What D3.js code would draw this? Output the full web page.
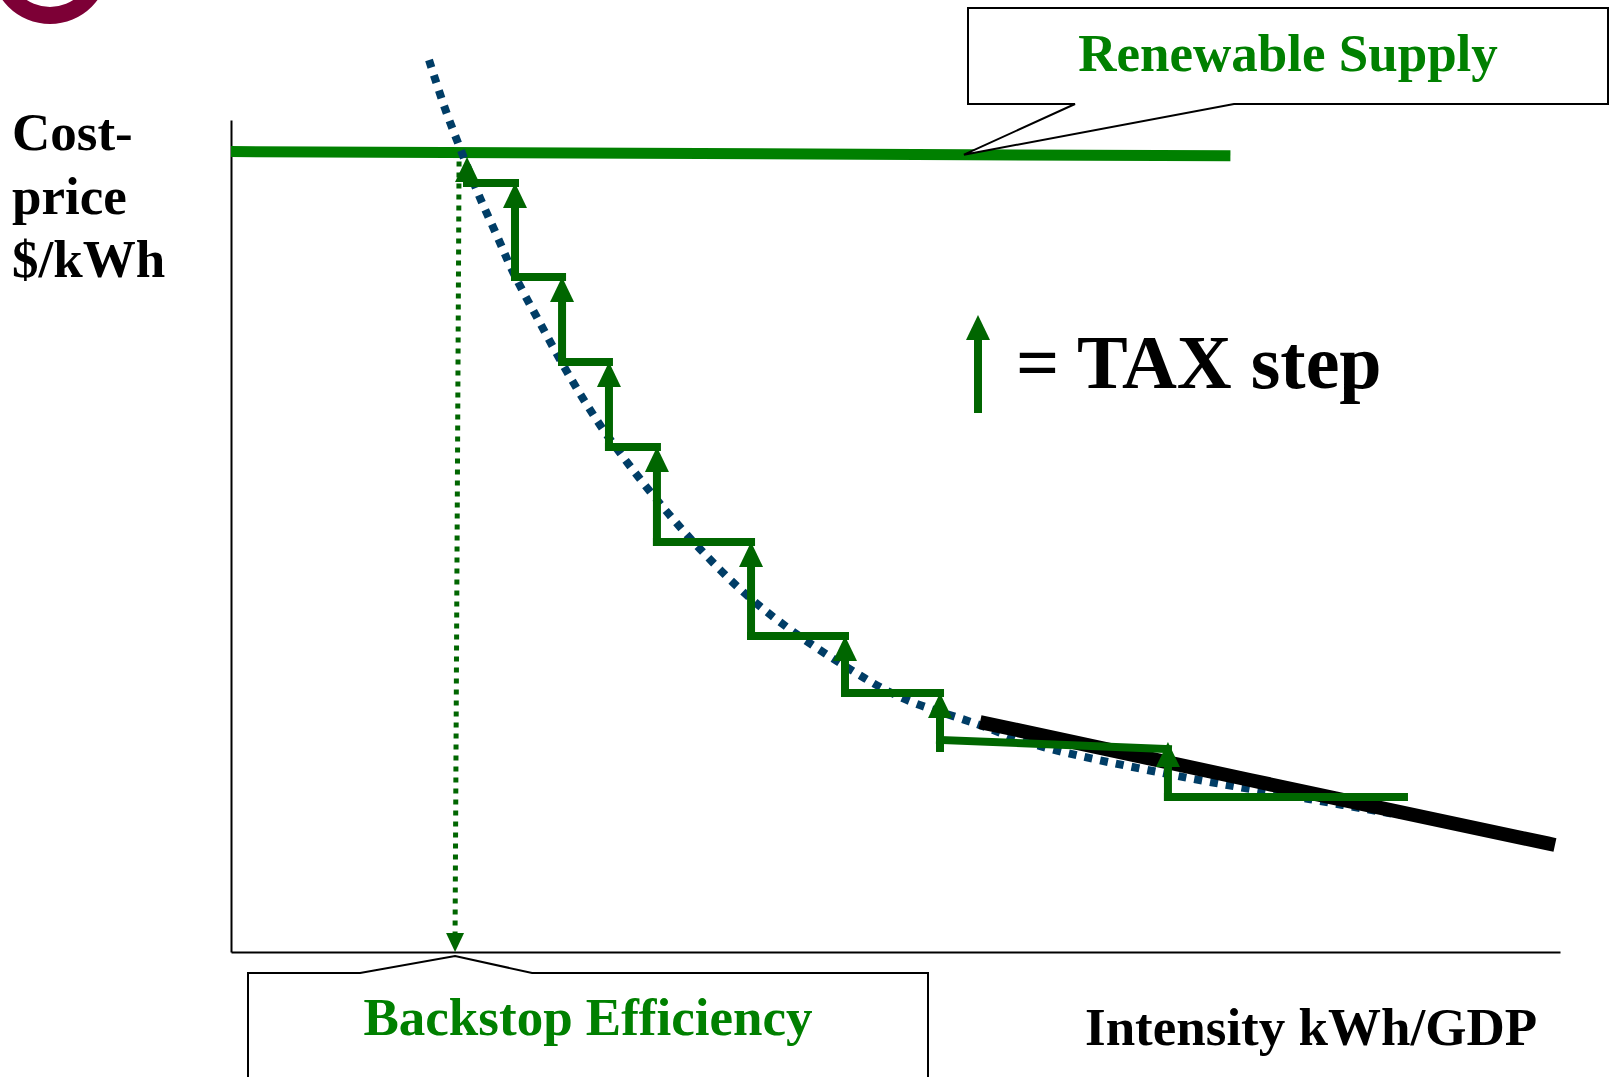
<!DOCTYPE html>
<html>
<head>
<meta charset="utf-8">
<title>Cost-price vs intensity: tax steps toward the backstop</title>
<script src="https://cdn.jsdelivr.net/npm/d3@7"></script>
<style>
  html, body { margin: 0; padding: 0; background: #ffffff; }
  svg { display: block; }
  text { font-family: "Liberation Serif", "Times New Roman", serif; font-weight: bold; }
</style>
</head>
<body>
<svg id="chart" width="1612" height="1077"></svg>
<script>
// ---- data (chart units: intensity 0–10 across, cost-price 0–10 up) ----

// Renewable supply price: a nearly flat ceiling
const renewableSupply = [
  { x: 0.00, y: 9.62 },
  { x: 7.52, y: 9.57 }
];

// Efficiency cost curve (dotted): cost rises steeply as intensity falls
const efficiencyCurve = [
  { x: 1.490, y: 10.72 }, { x: 1.610, y: 10.14 }, { x: 1.738, y: 9.603 },
  { x: 1.874, y: 9.063 }, { x: 2.002, y: 8.606 }, { x: 2.122, y: 8.173 },
  { x: 2.325, y: 7.560 }, { x: 2.551, y: 6.911 }, { x: 2.777, y: 6.334 },
  { x: 3.002, y: 5.841 }, { x: 3.281, y: 5.288 }, { x: 3.529, y: 4.844 },
  { x: 3.830, y: 4.363 }, { x: 4.131, y: 3.966 }, { x: 4.582, y: 3.474 },
  { x: 5.034, y: 3.065 }, { x: 5.613, y: 2.740 }, { x: 6.057, y: 2.488 },
  { x: 7.088, y: 2.127 }, { x: 8.111, y: 1.839 }, { x: 8.796, y: 1.647 }
];

// Current market price trend (thick black line)
const marketTrend = [
  { x: 5.636, y: 2.764 },
  { x: 7.667, y: 2.067 },
  { x: 9.962, y: 1.286 }
];

// Tax staircase: flat treads between tax increases
const taxTreads = [
  { x0: 1.776, x1: 2.137, y0: 9.243, y1: 9.243 },
  { x0: 2.137, x1: 2.491, y0: 8.113, y1: 8.113 },
  { x0: 2.491, x1: 2.844, y0: 7.091, y1: 7.091 },
  { x0: 2.844, x1: 3.205, y0: 6.070, y1: 6.070 },
  { x0: 3.205, x1: 3.913, y0: 4.928, y1: 4.928 },
  { x0: 3.913, x1: 4.620, y0: 3.798, y1: 3.798 },
  { x0: 4.620, x1: 5.335, y0: 3.113, y1: 3.113 },
  { x0: 5.335, x1: 7.050, y0: 2.548, y1: 2.440 },
  { x0: 7.050, x1: 8.826, y0: 1.863, y1: 1.863 }
];

// Tax steps: each one lifts the price from one tread to the next
const taxSteps = [
  { x: 1.776, from: 9.243, to: 9.555 },
  { x: 2.137, from: 8.113, to: 9.243 },
  { x: 2.491, from: 7.091, to: 8.113 },
  { x: 2.844, from: 6.070, to: 7.091 },
  { x: 3.205, from: 4.928, to: 6.070 },
  { x: 3.913, from: 3.798, to: 4.928 },
  { x: 4.620, from: 3.113, to: 3.798 },
  { x: 5.335, from: 2.452, to: 3.113 },
  { x: 7.050, from: 1.863, to: 2.524 }
];

// Backstop efficiency: where the curve meets renewable supply, dropped to the axis
const backstopDrop = [
  { x: 1.716, y: 9.50 },
  { x: 1.686, y: 0.00 }
];

// Text
const yAxisTitle = ["Cost-", "price", "$/kWh"];
const xAxisTitle = "Intensity kWh/GDP";
const renewableLabel = "Renewable Supply";
const backstopLabel = "Backstop Efficiency";
const taxLegendLabel = "= TAX step";
const renewableCalloutAt = 5.515;   // where the callout points on the supply line

// ---- colours ----
const GREEN = "#008000";
const STEP_GREEN = "#006600";
const NAVY = "#003d66";
const MAROON = "#7d0036";

// ---- scales ----
const svg = d3.select("#chart");
const x = d3.scaleLinear().domain([0, 10]).range([231, 1560]);
const y = d3.scaleLinear().domain([0, 10]).range([952, 120]);

// corner emblem (partial ring)
svg.append("path")
  .attr("transform", "translate(50,-35)")
  .attr("d", d3.arc()({ innerRadius: 42, outerRadius: 59, startAngle: 0, endAngle: 2 * Math.PI }))
  .attr("fill", MAROON);

// ---- axes (no ticks, just the frame lines) ----
svg.append("g").attr("transform", `translate(${x(0)},0)`)
  .call(d3.axisLeft(y).ticks(0).tickSizeOuter(0));
svg.append("g").attr("transform", `translate(0,${y(0)})`)
  .call(d3.axisBottom(x).ticks(0).tickSizeOuter(0));
svg.selectAll(".domain").attr("stroke", "#000").attr("stroke-width", 2);

const line = d3.line().x(d => x(d.x)).y(d => y(d.y));

// renewable supply ceiling
svg.append("path").datum(renewableSupply)
  .attr("d", line)
  .attr("fill", "none").attr("stroke", GREEN).attr("stroke-width", 11);

// backstop drop line with arrowhead on the axis
const bTop = backstopDrop[0], bBot = backstopDrop[1];
svg.append("path").datum([bTop, { x: bBot.x, y: y.invert(y(0) - 18) }])
  .attr("d", line)
  .attr("fill", "none").attr("stroke", STEP_GREEN)
  .attr("stroke-width", 5).attr("stroke-dasharray", "5,6");
{
  const tx = x(bBot.x), ty = y(bBot.y);
  svg.append("path")
    .attr("d", `M${tx},${ty} L${tx - 9},${ty - 19} L${tx + 9},${ty - 19} Z`)
    .attr("fill", STEP_GREEN);
}

// efficiency cost curve (dotted)
svg.append("path").datum(efficiencyCurve)
  .attr("d", d3.line().x(d => x(d.x)).y(d => y(d.y)).curve(d3.curveCatmullRom.alpha(0.5)))
  .attr("fill", "none").attr("stroke", NAVY)
  .attr("stroke-width", 8).attr("stroke-dasharray", "8,8");

// market trend (thick black)
svg.append("path").datum(marketTrend)
  .attr("d", d3.line().x(d => x(d.x)).y(d => y(d.y)).curve(d3.curveMonotoneX))
  .attr("fill", "none").attr("stroke", "#000").attr("stroke-width", 14);

// tax staircase treads
const steps = svg.append("g");
steps.selectAll("line.tread").data(taxTreads).join("line")
  .attr("class", "tread")
  .attr("x1", d => x(d.x0)).attr("x2", d => x(d.x1))
  .attr("y1", d => y(d.y0)).attr("y2", d => y(d.y1))
  .attr("stroke", STEP_GREEN).attr("stroke-width", 8).attr("stroke-linecap", "square");

// up-arrow helper
const HEAD_W = 24, HEAD_H = 25;
function upArrow(g, px, pyFrom, pyTip, color, w) {
  g.append("line")
    .attr("x1", px).attr("x2", px)
    .attr("y1", pyFrom).attr("y2", Math.min(pyFrom, pyTip + HEAD_H - 1))
    .attr("stroke", color).attr("stroke-width", w).attr("stroke-linecap", "square");
  g.append("path")
    .attr("d", `M${px},${pyTip} L${px + HEAD_W / 2},${pyTip + HEAD_H} L${px - HEAD_W / 2},${pyTip + HEAD_H} Z`)
    .attr("fill", color);
}
taxSteps.forEach(s => upArrow(steps, x(s.x), y(s.from), y(s.to), STEP_GREEN, 8));

// ---- callouts ----
const callouts = svg.append("g").attr("fill", "#fff").attr("stroke", "#000").attr("stroke-width", 2);

// Renewable Supply callout, pointing at the supply line
{
  const tipX = x(renewableCalloutAt);
  const tipY = y(d3.interpolateNumber(renewableSupply[0].y, renewableSupply[1].y)(
    renewableCalloutAt / renewableSupply[1].x));
  const L = 968, R = 1608, T = 8, B = 104;
  callouts.append("path")
    .attr("d", `M${L},${T} H${R} V${B} H1234 L${tipX},${tipY} L1075,${B} H${L} Z`)
    .attr("stroke-linejoin", "miter");
  svg.append("text")
    .attr("x", (L + R) / 2).attr("y", 71)
    .attr("text-anchor", "middle")
    .attr("font-size", 53).attr("fill", GREEN)
    .text(renewableLabel);
}

// Backstop Efficiency callout, pointing up at the axis crossing
{
  const tipX = x(bBot.x), tipY = y(0) + 4;
  const L = 248, R = 928, T = 973, B = 1090;
  callouts.append("path")
    .attr("d", `M${L},${B} V${T} H${tipX - 95} L${tipX},${tipY} L${tipX + 77},${T} H${R} V${B}`);
  svg.append("text")
    .attr("x", (L + R) / 2).attr("y", 1035)
    .attr("text-anchor", "middle")
    .attr("font-size", 53).attr("fill", GREEN)
    .text(backstopLabel);
}

// ---- axis titles ----
svg.append("text")
  .attr("x", 12).attr("font-size", 53).attr("fill", "#000")
  .selectAll("tspan").data(yAxisTitle).join("tspan")
  .attr("x", 12).attr("y", (d, i) => 150 + i * 63.5)
  .text(d => d);

svg.append("text")
  .attr("x", 1085).attr("y", 1045)
  .attr("font-size", 53).attr("fill", "#000")
  .text(xAxisTitle);

// ---- legend: arrow = tax step ----
{
  const lg = svg.append("g");
  upArrow(lg, 978, 409, 315, STEP_GREEN, 8);
  lg.append("text")
    .attr("x", 1016).attr("y", 388)
    .attr("font-size", 76).attr("fill", "#000")
    .text(taxLegendLabel);
}
</script>
</body>
</html>
